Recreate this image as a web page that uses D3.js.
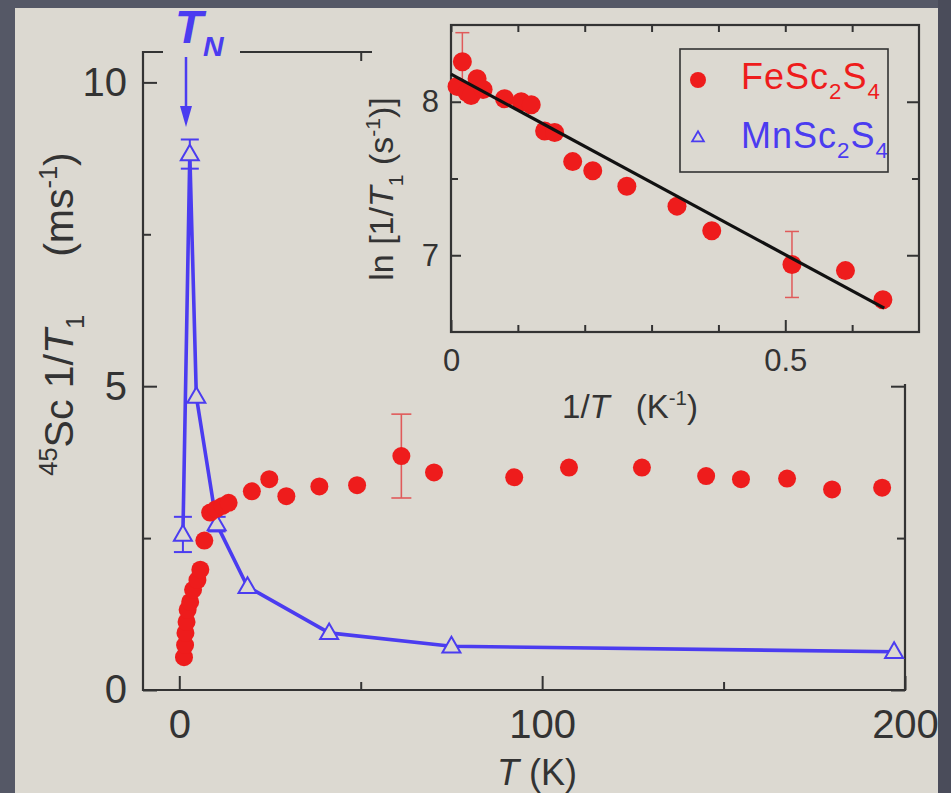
<!DOCTYPE html>
<html>
<head>
<meta charset="utf-8">
<script src="https://cdn.jsdelivr.net/npm/d3@7/dist/d3.min.js"></script>
<style>
  html, body { margin: 0; padding: 0; background: #dcd9d1; }
  svg { display: block; }
</style>
</head>
<body>
<svg id="chart" width="951" height="793"></svg>
<script>
// ---- FeSc2S4 : 45Sc spin-lattice relaxation rate (ms^-1) vs T (K)
const feT    = [1.3, 1.6, 1.7, 2.0, 2.3, 3.0, 3.8, 5.0, 5.8, 6.9, 8.5, 10.2, 11.9, 13.6,
                20.0, 24.8, 29.5, 38.6, 49.0, 61.2, 70.2, 92.3, 107.4, 127.5, 145.2, 154.8, 167.5, 179.9, 193.7];
const feRate = [0.54, 0.74, 0.94, 1.12, 1.32, 1.45, 1.65, 1.81, 1.98, 2.46, 2.92, 2.98, 3.03, 3.08,
                3.27, 3.47, 3.19, 3.35, 3.37, 3.85, 3.58, 3.50, 3.66, 3.66, 3.52, 3.47, 3.48, 3.30, 3.33];
const feErr  = [0, 0, 0, 0, 0, 0, 0, 0, 0, 0, 0, 0, 0, 0,
                0, 0, 0, 0, 0, 0.69, 0, 0, 0, 0, 0, 0, 0, 0, 0];

// ---- MnSc2S4
const mnT    = [1.0, 2.9, 4.7, 10.3, 18.8, 41.3, 75.0, 197.0];
const mnRate = [2.56, 8.82, 4.83, 2.73, 1.70, 0.94, 0.72, 0.63];
const mnErr  = [0.29, 0.24, 0, 0.12, 0, 0, 0, 0];

// ---- inset: ln(1/T1) vs 1/T for FeSc2S4, with linear fit
const invT   = [0.009, 0.017, 0.024, 0.030, 0.039, 0.048, 0.080, 0.105, 0.120, 0.140, 0.155,
                0.182, 0.212, 0.263, 0.338, 0.390, 0.510, 0.590, 0.646];
const lnRate = [8.10, 8.26, 8.06, 8.04, 8.15, 8.08, 8.02, 8.00, 7.98, 7.81, 7.80,
                7.61, 7.55, 7.45, 7.32, 7.16, 6.94, 6.90, 6.71];
const lnErr  = [0, 0.19, 0, 0, 0, 0, 0, 0, 0, 0, 0,
                0, 0, 0, 0, 0, 0.215, 0, 0];
const fitX   = [0, 0.648];
const fitY   = [8.18, 6.655];

// ---- tick values
const mainXMajor = [0, 100, 200], mainXMinor = [50, 150];
const mainYMajor = [0, 5, 10],    mainYMinor = [2.5, 7.5];
const insXMajor  = [0, 0.5],      insXMinor  = [0.1, 0.2, 0.3, 0.4, 0.6];
const insYMajor  = [7, 8],        insYMinor  = [7.5];

const seriesNames = ["FeSc2S4", "MnSc2S4"];

// ---- styling
const BG = "#dcd9d1", INK = "#333333", RED = "#ee1c1c", RED_ERR = "#e05a5a", BLUE = "#4b3cf0";
const FONT = "'Liberation Sans', Arial, sans-serif";

const svg = d3.select("#chart");
svg.append("rect").attr("width", 951).attr("height", 793).attr("fill", BG);

// rich text with sub/superscripts and italics
function rich(parent, parts, fs) {
  const text = parent.append("text").attr("font-size", fs).attr("font-family", FONT);
  let shift = 0;
  parts.forEach(p => {
    let target = 0, size = fs;
    if (p.sup) { target = -0.38 * fs; size = 0.62 * fs; }
    if (p.sub) { target = 0.28 * fs; size = 0.62 * fs; }
    const ts = text.append("tspan").text(p.t).attr("font-size", size).attr("dy", target - shift);
    if (p.i) ts.attr("font-style", "italic");
    if (p.dx) ts.attr("dx", p.dx);
    shift = target;
  });
  return text;
}

// ================= main panel =================
const x = d3.scaleLinear().domain([-10, 200]).range([143, 905]);
const y = d3.scaleLinear().domain([0, 10.5]).range([690, 52]);

const main = svg.append("g");

function styleAxis(g, fs) {
  g.select(".domain").remove();
  g.selectAll(".tick line").attr("stroke", INK).attr("stroke-width", 2);
  g.selectAll(".tick text").attr("fill", INK).attr("font-family", FONT).attr("font-size", fs);
}

// frame
main.append("path")
  .attr("d", `M${x(-10)},${y(10.5)}V${y(0)}H${x(200)}V${y(10.5)}Z`)
  .attr("fill", "none").attr("stroke", INK).attr("stroke-width", 2.2);

main.append("g").attr("transform", `translate(0,${y(0)})`)
  .call(d3.axisBottom(x).tickValues(mainXMajor).tickSize(-14).tickPadding(20).tickFormat(d3.format("d")))
  .call(g => styleAxis(g, 40));
main.append("g").attr("transform", `translate(0,${y(0)})`)
  .call(d3.axisBottom(x).tickValues(mainXMinor).tickSize(-8).tickFormat(""))
  .call(g => styleAxis(g, 40));
main.append("g").attr("transform", `translate(0,${y(10.5)})`)
  .call(d3.axisTop(x).tickValues(mainXMajor.concat(mainXMinor)).tickSize(-9).tickFormat(""))
  .call(g => styleAxis(g, 40));
main.append("g").attr("transform", `translate(${x(-10)},0)`)
  .call(d3.axisLeft(y).tickValues(mainYMajor).tickSize(-14).tickPadding(16).tickFormat(d3.format("d")))
  .call(g => styleAxis(g, 40));
main.append("g").attr("transform", `translate(${x(-10)},0)`)
  .call(d3.axisLeft(y).tickValues(mainYMinor).tickSize(-8).tickFormat(""))
  .call(g => styleAxis(g, 40));
main.append("g").attr("transform", `translate(${x(200)},0)`)
  .call(d3.axisRight(y).tickValues(mainYMajor).tickSize(-14).tickFormat(""))
  .call(g => styleAxis(g, 40));
main.append("g").attr("transform", `translate(${x(200)},0)`)
  .call(d3.axisRight(y).tickValues(mainYMinor).tickSize(-8).tickFormat(""))
  .call(g => styleAxis(g, 40));

// axis titles
rich(main, [{ t: "T", i: true }, { t: " (K)" }], 36)
  .attr("x", 537).attr("y", 785).attr("text-anchor", "middle").attr("fill", INK);

const yTitle = main.append("g").attr("transform", "translate(73,314) rotate(-90)");
rich(yTitle, [{ t: "45", sup: true }, { t: "Sc 1/" }, { t: "T", i: true }, { t: "1", sub: true },
              { t: "(ms", dx: 58 }, { t: "-1", sup: true }, { t: ")" }], 41)
  .attr("text-anchor", "middle").attr("fill", INK);

// label backdrop for T_N
main.append("rect").attr("x", 163).attr("y", 0).attr("width", 77).attr("height", 66).attr("fill", BG);

// MnSc2S4 line, error bars and open triangles
const line = d3.line().x(d => x(d[0])).y(d => y(d[1]));
const mn = d3.zip(mnT, mnRate, mnErr);
main.append("path").datum(mn).attr("d", line)
  .attr("fill", "none").attr("stroke", BLUE).attr("stroke-width", 3.6).attr("stroke-linejoin", "round");
const mnE = main.append("g").attr("stroke", BLUE).attr("stroke-width", 2);
mn.filter(d => d[2] > 0).forEach(d => {
  const cx = x(d[0]);
  mnE.append("line").attr("x1", cx).attr("x2", cx).attr("y1", y(d[1] - d[2])).attr("y2", y(d[1] + d[2]));
  [d[1] - d[2], d[1] + d[2]].forEach(v =>
    mnE.append("line").attr("x1", cx - 9).attr("x2", cx + 9).attr("y1", y(v)).attr("y2", y(v)));
});
const tri = d3.symbol().type(d3.symbolTriangle).size(140);
main.append("g").selectAll("path").data(mn).join("path")
  .attr("d", tri).attr("transform", d => `translate(${x(d[0])},${y(d[1]) + 1})`)
  .attr("fill", BG).attr("stroke", BLUE).attr("stroke-width", 2);

// FeSc2S4 filled circles with error bar
const fe = d3.zip(feT, feRate, feErr);
const feE = main.append("g").attr("stroke", RED_ERR).attr("stroke-width", 1.6);
fe.filter(d => d[2] > 0).forEach(d => {
  const cx = x(d[0]);
  feE.append("line").attr("x1", cx).attr("x2", cx).attr("y1", y(d[1] - d[2])).attr("y2", y(d[1] + d[2]));
  [d[1] - d[2], d[1] + d[2]].forEach(v =>
    feE.append("line").attr("x1", cx - 10).attr("x2", cx + 10).attr("y1", y(v)).attr("y2", y(v)));
});
main.append("g").selectAll("circle").data(fe).join("circle")
  .attr("cx", d => x(d[0])).attr("cy", d => y(d[1])).attr("r", 9).attr("fill", RED);

// T_N annotation
const tn = main.append("g").attr("fill", BLUE);
rich(tn, [{ t: "T", i: true }, { t: "N", i: true, sub: true }], 46)
  .attr("x", 175).attr("y", 43).attr("font-weight", "bold").attr("fill", BLUE);
tn.append("line").attr("x1", 186).attr("x2", 186).attr("y1", 57).attr("y2", 112)
  .attr("stroke", BLUE).attr("stroke-width", 2.5);
tn.append("path").attr("d", "M180,106L192,106L186,127Z");

// ================= inset =================
const xi = d3.scaleLinear().domain([0, 0.7]).range([451, 919]);
const yi = d3.scaleLinear().domain([6.5, 8.5]).range([332, 25]);
const inset = svg.append("g");

inset.append("rect").attr("x", 372).attr("y", 0).attr("width", 579).attr("height", 384).attr("fill", BG);
inset.append("rect").attr("x", xi(0)).attr("y", yi(8.5)).attr("width", xi(0.7) - xi(0)).attr("height", yi(6.5) - yi(8.5))
  .attr("fill", "none").attr("stroke", INK).attr("stroke-width", 2.2);

inset.append("g").attr("transform", `translate(0,${yi(6.5)})`)
  .call(d3.axisBottom(xi).tickValues(insXMajor).tickSize(-12).tickPadding(17).tickFormat(d => d === 0 ? "0" : d3.format(".1f")(d)))
  .call(g => styleAxis(g, 31));
inset.append("g").attr("transform", `translate(0,${yi(6.5)})`)
  .call(d3.axisBottom(xi).tickValues(insXMinor).tickSize(-7).tickFormat(""))
  .call(g => styleAxis(g, 31));
inset.append("g").attr("transform", `translate(0,${yi(8.5)})`)
  .call(d3.axisTop(xi).tickValues(insXMajor.concat(insXMinor)).tickSize(-7).tickFormat(""))
  .call(g => styleAxis(g, 31));
inset.append("g").attr("transform", `translate(${xi(0)},0)`)
  .call(d3.axisLeft(yi).tickValues(insYMajor).tickSize(-10).tickPadding(12).tickFormat(d3.format("d")))
  .call(g => styleAxis(g, 31));
inset.append("g").attr("transform", `translate(${xi(0)},0)`)
  .call(d3.axisLeft(yi).tickValues(insYMinor).tickSize(-7).tickFormat(""))
  .call(g => styleAxis(g, 31));
inset.append("g").attr("transform", `translate(${xi(0.7)},0)`)
  .call(d3.axisRight(yi).tickValues(insYMajor).tickSize(-12).tickFormat(""))
  .call(g => styleAxis(g, 31));
inset.append("g").attr("transform", `translate(${xi(0.7)},0)`)
  .call(d3.axisRight(yi).tickValues(insYMinor).tickSize(-7).tickFormat(""))
  .call(g => styleAxis(g, 31));

rich(inset, [{ t: "1/" }, { t: "T", i: true }, { t: "(K", dx: 26 }, { t: "-1", sup: true }, { t: ")" }], 33)
  .attr("x", 630).attr("y", 418).attr("text-anchor", "middle").attr("fill", INK);
const yiTitle = inset.append("g").attr("transform", "translate(393,189) rotate(-90)");
rich(yiTitle, [{ t: "ln [1/" }, { t: "T", i: true }, { t: "1", sub: true }, { t: " (s" },
               { t: "-1", sup: true }, { t: ")]" }], 34)
  .attr("text-anchor", "middle").attr("fill", INK);

// inset error bars, points, fit
const ins = d3.zip(invT, lnRate, lnErr);
const insE = inset.append("g").attr("stroke", RED_ERR).attr("stroke-width", 1.5);
ins.filter(d => d[2] > 0).forEach(d => {
  const cx = xi(d[0]);
  insE.append("line").attr("x1", cx).attr("x2", cx).attr("y1", yi(d[1] - d[2])).attr("y2", yi(d[1] + d[2]));
  [d[1] - d[2], d[1] + d[2]].forEach(v =>
    insE.append("line").attr("x1", cx - 7).attr("x2", cx + 7).attr("y1", yi(v)).attr("y2", yi(v)));
});
inset.append("g").selectAll("circle").data(ins).join("circle")
  .attr("cx", d => xi(d[0])).attr("cy", d => yi(d[1])).attr("r", 9.5).attr("fill", RED);
inset.append("path").datum(d3.zip(fitX, fitY))
  .attr("d", d3.line().x(d => xi(d[0])).y(d => yi(d[1])))
  .attr("stroke", "#111").attr("stroke-width", 3.2).attr("fill", "none");

// legend
const leg = inset.append("g");
leg.append("rect").attr("x", 680).attr("y", 49).attr("width", 208).attr("height", 123)
  .attr("fill", BG).attr("stroke", INK).attr("stroke-width", 1.6);
leg.append("circle").attr("cx", 698).attr("cy", 80).attr("r", 8).attr("fill", RED);
leg.append("path").attr("d", d3.symbol().type(d3.symbolTriangle).size(60))
  .attr("transform", "translate(698,138)").attr("fill", "none").attr("stroke", BLUE).attr("stroke-width", 1.8);
const chem = name => name.split(/(\d)/).filter(s => s).map(s => /\d/.test(s) ? { t: s, sub: true } : { t: s });
rich(leg, chem(seriesNames[0]), 36).attr("x", 741).attr("y", 89).attr("fill", RED).attr("letter-spacing", 1);
rich(leg, chem(seriesNames[1]), 36).attr("x", 741).attr("y", 148).attr("fill", BLUE).attr("letter-spacing", 1);

// ================= slide border =================
const border = svg.append("g").attr("fill", "#555866");
border.append("rect").attr("x", 0).attr("y", 0).attr("width", 15).attr("height", 793);
border.append("rect").attr("x", 0).attr("y", 0).attr("width", 951).attr("height", 8);
border.append("rect").attr("x", 938).attr("y", 0).attr("width", 13).attr("height", 793).attr("fill", "#4a4c5a");
</script>
</body>
</html>
